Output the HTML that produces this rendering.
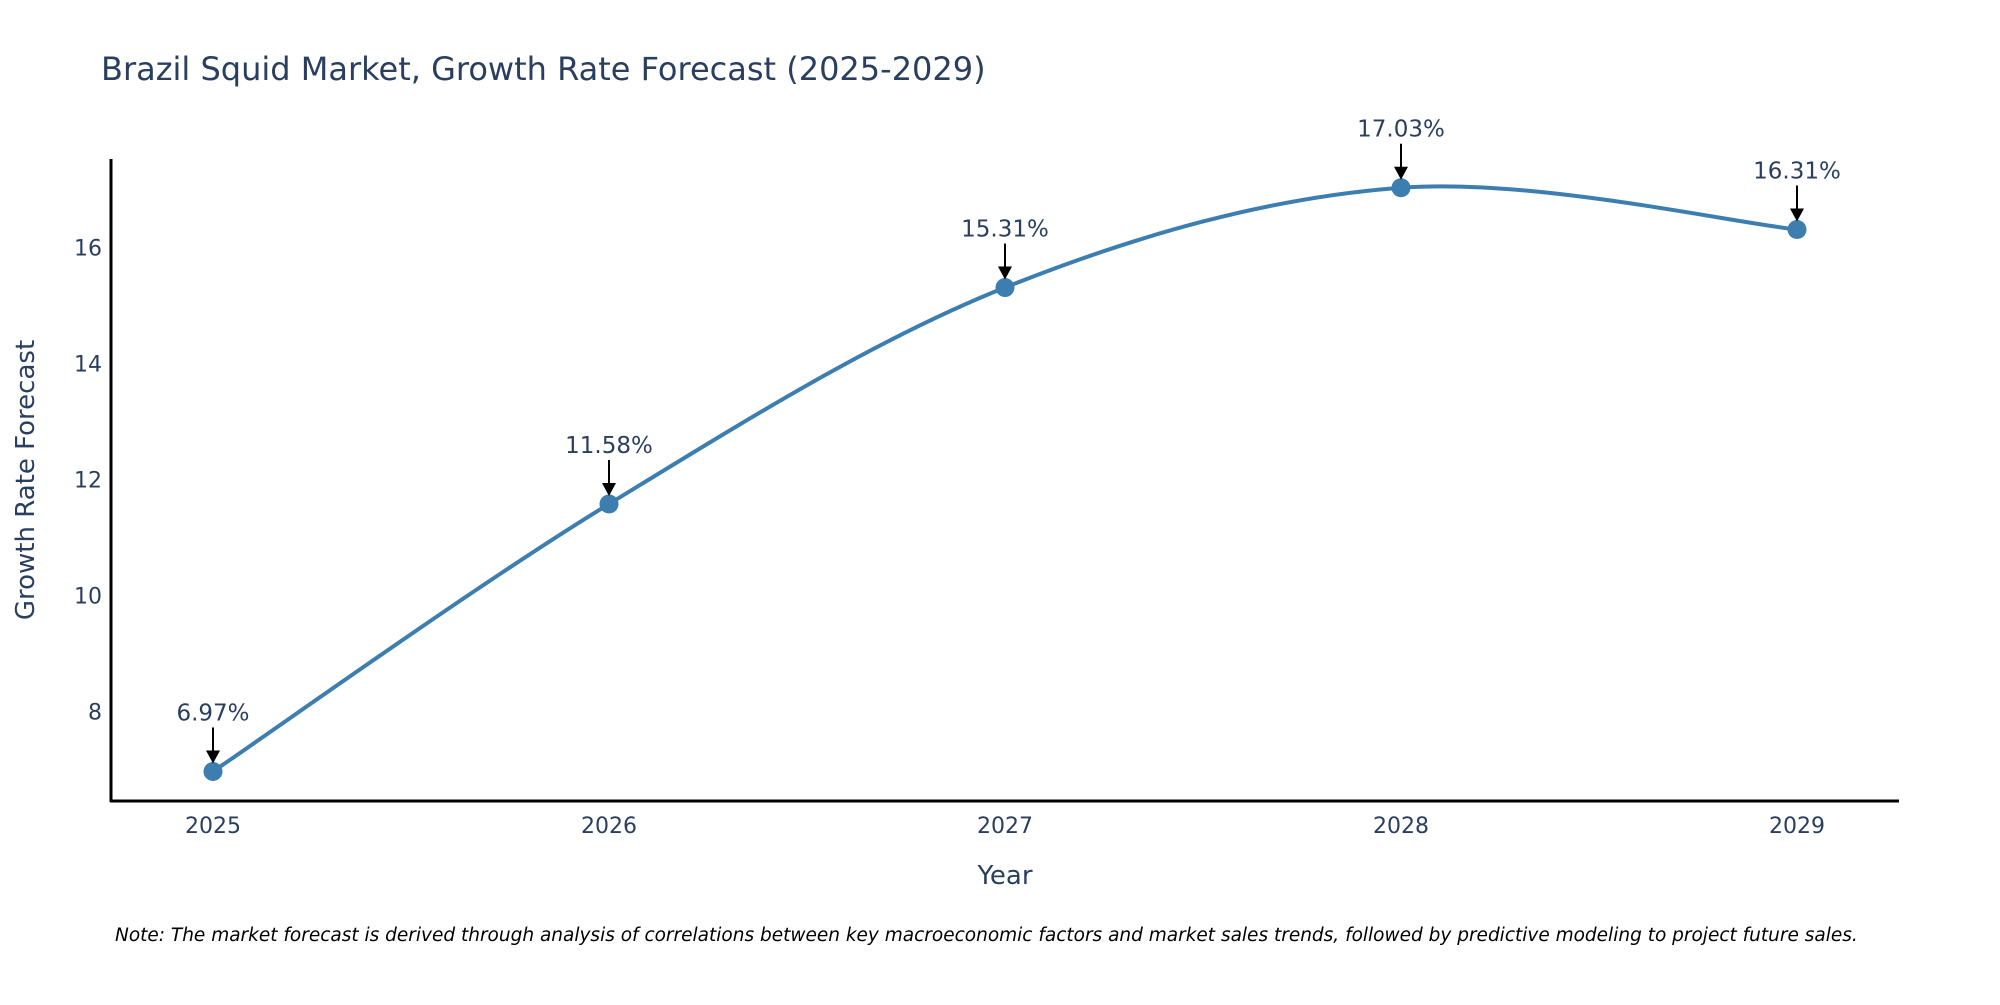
<!DOCTYPE html>
<html><head><meta charset="utf-8"><style>
body{margin:0;background:#fff;}
svg text{font-family:"DejaVu Sans","Liberation Sans",sans-serif;fill:#2a3f5f;}
</style></head><body>
<svg id="chart" width="2000" height="1000" xmlns="http://www.w3.org/2000/svg">
<rect width="2000" height="1000" fill="#fff"/>
<text x="101" y="80" font-size="32">Brazil Squid Market, Growth Rate Forecast (2025-2029)</text>
<g id="plot"></g>
<text x="1005" y="884" font-size="26" text-anchor="middle">Year</text>
<text transform="translate(34,480) rotate(-90)" font-size="26" text-anchor="middle">Growth Rate Forecast</text>
<text x="115" y="941" font-size="18.5" font-style="italic" style="fill:#000">Note: The market forecast is derived through analysis of correlations between key macroeconomic factors and market sales trends, followed by predictive modeling to project future sales.</text>
</svg>
<script>
const years=[2025,2026,2027,2028,2029];
const values=[6.97,11.58,15.31,17.03,16.31];
const labels=["6.97%","11.58%","15.31%","17.03%","16.31%"];
const yTicks=[8,10,12,14,16];
const NS="http://www.w3.org/2000/svg";
const g=document.getElementById('plot');
function X(v){return 213+(v-2025)*(1797-213)/4;}
function Y(v){return 711.7-(v-8)*(711.7-247.5)/8;}
function mk(t,a){const e=document.createElementNS(NS,t);for(const k in a)e.setAttribute(k,a[k]);g.appendChild(e);return e;}
let e;
e=mk('line',{x1:111,y1:159,x2:111,y2:802,stroke:'#000','stroke-width':3});


e=mk('line',{x1:110,y1:801,x2:1899,y2:801,stroke:'#000','stroke-width':3});


yTicks.forEach(t=>{const el=mk('text',{x:102,y:Y(t)+8,'font-size':22,'text-anchor':'end'});el.textContent=t;

});
years.forEach(t=>{const el=mk('text',{x:X(t),y:833,'font-size':22,'text-anchor':'middle'});el.textContent=t;

});
const P=years.map((y,i)=>[X(y),Y(values[i])]);
let d='M'+P[0][0]+','+P[0][1];
for(let i=0;i<P.length-1;i++){const p0=P[Math.max(i-1,0)],p1=P[i],p2=P[i+1],p3=P[Math.min(i+2,P.length-1)];
const c1=[p1[0]+(p2[0]-p0[0])/6,p1[1]+(p2[1]-p0[1])/6],c2=[p2[0]-(p3[0]-p1[0])/6,p2[1]-(p3[1]-p1[1])/6];
d+=' C'+c1+' '+c2+' '+p2;}
e=mk('path',{d:d,fill:'none',stroke:'#3d7eb0','stroke-width':4});


P.forEach((p,i)=>{
const c=mk('circle',{cx:p[0],cy:p[1],r:9.5,fill:'#3d7eb0'});


const l=mk('line',{x1:p[0],y1:p[1]-44,x2:p[0],y2:p[1]-18,stroke:'#000','stroke-width':2});


const h=mk('polygon',{points:`${p[0]-7},${p[1]-21} ${p[0]+7},${p[1]-21} ${p[0]},${p[1]-8}`,fill:'#000'});


const t=mk('text',{x:p[0],y:p[1]-51,'font-size':23,'text-anchor':'middle'});t.textContent=labels[i];


});
</script>
</body></html>
